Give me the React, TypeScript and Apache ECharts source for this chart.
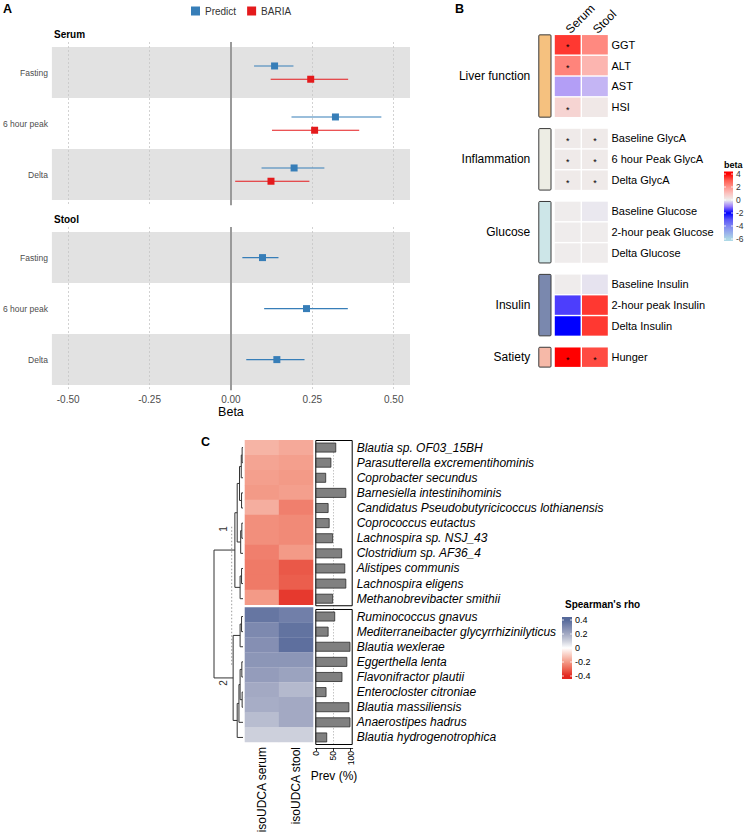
import React, { useEffect, useRef } from "react";
import * as echarts from "echarts";

const FONT = "'Liberation Sans', Arial, Helvetica, sans-serif";

// ---------------- Panel A data ----------------
const timepoints = ["Fasting", "6 hour peak", "Delta"];
const cohorts = ["Predict", "BARIA"];
const serumPredictBeta = [0.134, 0.321, 0.194];
const serumPredictLo = [0.071, 0.186, 0.094];
const serumPredictHi = [0.192, 0.462, 0.287];
const serumBariaBeta = [0.245, 0.257, 0.123];
const serumBariaLo = [0.122, 0.126, 0.013];
const serumBariaHi = [0.36, 0.394, 0.241];
const stoolPredictBeta = [0.097, 0.232, 0.141];
const stoolPredictLo = [0.035, 0.102, 0.047];
const stoolPredictHi = [0.146, 0.359, 0.226];
const betaTicks = [-0.5, -0.25, 0, 0.25, 0.5];

// ---------------- Panel B data ----------------
const sampleTypesB = ["Serum", "Stool"];
const groupsB = ["Liver function", "Inflammation", "Glucose", "Insulin", "Satiety"];
const groupSizesB = [4, 3, 3, 3, 1];
const outcomesB = [
  "GGT", "ALT", "AST", "HSI",
  "Baseline GlycA", "6 hour Peak GlycA", "Delta GlycA",
  "Baseline Glucose", "2-hour peak Glucose", "Delta Glucose",
  "Baseline Insulin", "2-hour peak Insulin", "Delta Insulin",
  "Hunger",
];
const serumBetaB = [3.4, 2.3, -0.7, 0.6, 0.1, 0.1, 0.1, 0.05, 0.05, 0.05, 0.05, -1.5, -2.0, 4.0];
const stoolBetaB = [2.2, 1.3, -0.5, 0.15, 0.1, 0.1, 0.1, -0.05, 0.05, 0.05, -0.1, 3.4, 3.4, 3.2];
const serumSigB = [1, 1, 0, 1, 1, 1, 1, 0, 0, 0, 0, 0, 0, 1];
const stoolSigB = [0, 0, 0, 0, 1, 1, 1, 0, 0, 0, 0, 0, 0, 1];
const betaLegendTicks = [4, 2, 0, -2, -4, -6];

// ---------------- Panel C data ----------------
const samplesC = ["isoUDCA serum", "isoUDCA stool"];
const speciesC = [
  "Blautia sp. OF03_15BH",
  "Parasutterella excrementihominis",
  "Coprobacter secundus",
  "Barnesiella intestinihominis",
  "Candidatus Pseudobutyricicoccus lothianensis",
  "Coprococcus eutactus",
  "Lachnospira sp. NSJ_43",
  "Clostridium sp. AF36_4",
  "Alistipes communis",
  "Lachnospira eligens",
  "Methanobrevibacter smithii",
  "Ruminococcus gnavus",
  "Mediterraneibacter glycyrrhizinilyticus",
  "Blautia wexlerae",
  "Eggerthella lenta",
  "Flavonifractor plautii",
  "Enterocloster citroniae",
  "Blautia massiliensis",
  "Anaerostipes hadrus",
  "Blautia hydrogenotrophica",
];
const clusterSizesC = [11, 9];
const clusterLabelsC = ["1", "2"];
const rhoSerumC = [-0.15, -0.18, -0.19, -0.2, -0.16, -0.22, -0.22, -0.25, -0.26, -0.26, -0.2,
  0.36, 0.3, 0.28, 0.26, 0.24, 0.2, 0.19, 0.15, 0.1];
const rhoStoolC = [-0.17, -0.19, -0.2, -0.19, -0.25, -0.23, -0.23, -0.2, -0.32, -0.31, -0.37,
  0.33, 0.37, 0.38, 0.26, 0.22, 0.16, 0.2, 0.2, 0.1];
const prevalenceC = [57, 43, 28, 86, 35, 38, 48, 74, 83, 86, 48, 54, 35, 98, 89, 75, 29, 95, 98, 31];
const prevTicks = [0, 50, 100];
const rhoLegendTicks = [0.4, 0.2, 0, -0.2, -0.4];
// dendrogram merges: [left, right, height]; leaves = row indices, node k = 20 + merge index
const dendroMerges = [
  [0, 1, 0.03],
  [20, 2, 0.06],
  [3, 4, 0.05],
  [21, 22, 0.12],
  [5, 6, 0.04],
  [24, 7, 0.08],
  [23, 25, 0.2],
  [8, 9, 0.05],
  [27, 10, 0.1],
  [26, 28, 0.28],
  [11, 12, 0.05],
  [30, 13, 0.1],
  [14, 15, 0.04],
  [16, 17, 0.03],
  [32, 33, 0.1],
  [34, 18, 0.14],
  [35, 19, 0.2],
  [31, 36, 0.34],
  [29, 37, 1.0],
];
const cutLineC = [0.39, 5.24, 14.5]; // height, from row pos, to row pos

// ---------------- styles ----------------
const BLUE = "#377EB8";
const RED = "#E41A1C";
const groupColorsB = ["#F5C17F", "#EDEDE4", "#CDE6E8", "#7A88AE", "#F6B9A8"];
const betaColors = ["#ADD8E6", "#98AEEB", "#7F86F1", "#5A55F8", "#0000FF", "#9A7CF9", "#EEEEEE", "#FBC3C0", "#FF948C", "#FF5E52", "#FF0000"];
const rhoColors = ["#E3261F", "#EC6452", "#F39A87", "#F9CDC2", "#FFFFFF", "#CDD0DC", "#A3A9C3", "#7D89AF", "#56699A"];

function buildOption() {
  // ---------- Panel A ----------
  const rowPosA = timepoints.map((_, i) => i + 1);
  const bandData = rowPosA
    .filter((_, i) => i % 2 === 0)
    .map((p) => [{ yAxis: p - 0.5 }, { yAxis: p + 0.5 }]);
  const vlines = {
    silent: true,
    symbol: ["none", "none"],
    label: { show: false },
    z: 3,
    data: betaTicks.map((v) => ({
      xAxis: v,
      lineStyle: v === 0
        ? { color: "#9a9a9a", width: 2, type: "solid" }
        : { color: "#c6c6c6", width: 0.8, type: [2, 2] },
    })),
  };
  const bands = { silent: true, itemStyle: { color: "#E2E2E2" }, data: bandData };

  const ci = (name: string, lo: number[], hi: number[], off: number, color: string, gi: number, withMarks: boolean) => ({
    type: "custom",
    name,
    xAxisIndex: gi,
    yAxisIndex: gi,
    z: 6,
    data: lo.map((l, i) => [l, hi[i], rowPosA[i] + off]),
    renderItem: (params: any, api: any) => {
      const a = api.coord([api.value(0), api.value(2)]);
      const b = api.coord([api.value(1), api.value(2)]);
      return { type: "line", shape: { x1: a[0], y1: a[1], x2: b[0], y2: b[1] }, style: { stroke: color, lineWidth: 1.1 } };
    },
    markArea: withMarks ? bands : undefined,
    markLine: withMarks ? vlines : undefined,
  });
  const pts = (name: string, beta: number[], off: number, color: string, gi: number) => ({
    type: "scatter",
    name,
    xAxisIndex: gi,
    yAxisIndex: gi,
    z: 7,
    symbol: "rect",
    symbolSize: 7,
    itemStyle: { color, opacity: 1 },
    data: beta.map((b, i) => [b, rowPosA[i] + off]),
  });
  const xA = (gi: number, labels: boolean) => ({
    type: "value",
    gridIndex: gi,
    min: -0.55,
    max: 0.55,
    axisLine: { show: false },
    axisTick: { show: false },
    splitLine: { show: false },
    axisLabel: labels
      ? { show: true, customValues: betaTicks, formatter: (v: number) => v.toFixed(2), fontSize: 10, color: "#4d4d4d", margin: 4, fontFamily: FONT }
      : { show: false },
    name: labels ? "Beta" : "",
    nameLocation: "middle",
    nameGap: 14,
    nameTextStyle: { fontSize: 12.5, color: "#000", fontFamily: FONT },
  });
  const yA = (gi: number) => ({
    type: "value",
    gridIndex: gi,
    min: 0.4,
    max: 3.6,
    inverse: true,
    axisLine: { show: false },
    axisTick: { show: false },
    splitLine: { show: false },
    axisLabel: {
      customValues: rowPosA,
      formatter: (v: number) => timepoints[Math.round(v) - 1],
      fontSize: 8.5,
      color: "#4d4d4d",
      margin: 4,
      fontFamily: FONT,
    },
  });

  // ---------- Panel B ----------
  const rowPosB: number[] = [];
  const groupOfRowB: number[] = [];
  let r = 0;
  groupSizesB.forEach((n, g) => {
    for (let k = 0; k < n; k++) {
      rowPosB.push(r + g * 0.5);
      groupOfRowB.push(g);
      r++;
    }
  });
  const groupRangeB = groupsB.map((_, g) => {
    const ps = rowPosB.filter((_, i) => groupOfRowB[i] === g);
    return [ps[0], ps[ps.length - 1]];
  });
  const groupCenterB = groupRangeB.map(([a, b]) => (a + b) / 2);
  const heatB: any[] = [];
  outcomesB.forEach((_, i) => {
    heatB.push([0, rowPosB[i], serumBetaB[i], serumSigB[i]]);
    heatB.push([1, rowPosB[i], stoolBetaB[i], stoolSigB[i]]);
  });
  const maxPosB = rowPosB[rowPosB.length - 1] + 0.5;

  // ---------- Panel C ----------
  const rowPosC: number[] = [];
  const clusterOfRowC: number[] = [];
  let rc = 0;
  clusterSizesC.forEach((n, c) => {
    for (let k = 0; k < n; k++) {
      rowPosC.push(rc + c * 0.18);
      clusterOfRowC.push(c);
      rc++;
    }
  });
  const maxPosC = rowPosC[rowPosC.length - 1] + 0.5;
  const heatC: any[] = [];
  speciesC.forEach((_, i) => {
    heatC.push([0, rowPosC[i], rhoSerumC[i]]);
    heatC.push([1, rowPosC[i], rhoStoolC[i]]);
  });
  const clusterBoxes = clusterSizesC.map((_, c) => {
    const ps = rowPosC.filter((_, i) => clusterOfRowC[i] === c);
    return [ps[0] - 0.5, ps[ps.length - 1] + 0.5];
  });
  // dendrogram node positions
  const nodePos: number[] = rowPosC.slice();
  const nodeH: number[] = rowPosC.map(() => 0);
  const dendroData = dendroMerges.map(([a, b, h]) => {
    const item = [nodePos[a], nodePos[b], nodeH[a], nodeH[b], h];
    nodePos.push((nodePos[a] + nodePos[b]) / 2);
    nodeH.push(h);
    return item;
  });

  const hiddenAxis = { axisLine: { show: false }, axisTick: { show: false }, splitLine: { show: false }, axisLabel: { show: false } };

  const grids = [
    { left: 50, top: 42, width: 360, height: 163.2 },
    { left: 50, top: 227, width: 360, height: 163.2 },
    { left: 538.3, top: 34, width: 70.2, height: 16 * 20.85 },
    { left: 214, top: 440, width: 29, height: 305 },
    { left: 244.7, top: 440, width: 68.3, height: 305 },
    { left: 315.3, top: 440, width: 37.4, height: 305 },
  ];

  const xAxes: any[] = [
    xA(0, false),
    xA(1, true),
    {
      type: "value", gridIndex: 2, position: "top", min: -1.08, max: 1.5,
      axisLine: { show: false }, axisTick: { show: false }, splitLine: { show: false },
      axisLabel: { customValues: [0, 1], formatter: (v: number) => sampleTypesB[Math.round(v)], rotate: 45, fontSize: 12, margin: 3, color: "#000", fontFamily: FONT },
    },
    { type: "value", gridIndex: 3, min: 0, max: 1, inverse: true, ...hiddenAxis },
    {
      type: "value", gridIndex: 4, min: -0.5, max: 1.5,
      axisLine: { show: false }, axisTick: { show: false }, splitLine: { show: false },
      axisLabel: { customValues: [0, 1], formatter: (v: number) => samplesC[Math.round(v)], rotate: 90, fontSize: 12, margin: 5, color: "#000", fontFamily: FONT },
    },
    {
      type: "value", gridIndex: 5, min: -2, max: 105.8, offset: 3,
      axisLine: { show: true, onZero: false, lineStyle: { color: "#000", width: 0.8 } },
      axisTick: { show: true, customValues: prevTicks, length: 3, lineStyle: { color: "#000", width: 0.8 } },
      splitLine: { show: false },
      axisLabel: { customValues: prevTicks, rotate: 90, fontSize: 8.5, margin: 3, color: "#000", fontFamily: FONT },
      name: "Prev (%)", nameLocation: "middle", nameGap: 22,
      nameTextStyle: { fontSize: 12, color: "#000", fontFamily: FONT },
    },
  ];

  const posLabel = (arr: number[], names: string[]) => (v: number) => {
    const i = arr.findIndex((p) => Math.abs(p - v) < 1e-6);
    return i >= 0 ? names[i] : "";
  };

  const yAxes: any[] = [
    yA(0),
    yA(1),
    {
      type: "value", gridIndex: 2, position: "right", min: -0.5, max: maxPosB, inverse: true,
      axisLine: { show: false }, axisTick: { show: false }, splitLine: { show: false },
      axisLabel: { customValues: rowPosB, formatter: posLabel(rowPosB, outcomesB), fontSize: 11, margin: 3, color: "#000", fontFamily: FONT },
    },
    {
      type: "value", gridIndex: 2, position: "left", min: -0.5, max: maxPosB, inverse: true,
      axisLine: { show: false }, axisTick: { show: false }, splitLine: { show: false },
      axisLabel: { customValues: groupCenterB, formatter: posLabel(groupCenterB, groupsB), fontSize: 12, margin: 8, color: "#000", fontFamily: FONT },
    },
    { type: "value", gridIndex: 3, min: -0.5, max: maxPosC, inverse: true, ...hiddenAxis },
    { type: "value", gridIndex: 4, min: -0.5, max: maxPosC, inverse: true, ...hiddenAxis },
    {
      type: "value", gridIndex: 5, position: "right", min: -0.5, max: maxPosC, inverse: true,
      axisLine: { show: false }, axisTick: { show: false }, splitLine: { show: false },
      axisLabel: { customValues: rowPosC, formatter: posLabel(rowPosC, speciesC), fontSize: 12, fontStyle: "italic", margin: 4, color: "#000", fontFamily: FONT },
    },
  ];

  const series: any[] = [
    ci("Predict CI", serumPredictLo, serumPredictHi, -0.13, BLUE, 0, true),
    ci("BARIA CI", serumBariaLo, serumBariaHi, 0.13, RED, 0, false),
    pts(cohorts[0], serumPredictBeta, -0.13, BLUE, 0),
    pts(cohorts[1], serumBariaBeta, 0.13, RED, 0),
    ci("Predict CI stool", stoolPredictLo, stoolPredictHi, 0, BLUE, 1, true),
    pts(cohorts[0], stoolPredictBeta, 0, BLUE, 1),
    // 6: B annotation
    {
      type: "custom", xAxisIndex: 2, yAxisIndex: 2, z: 3,
      data: groupRangeB.map(([a, b], g) => [a, b, g]),
      renderItem: (params: any, api: any) => {
        const cs = params.coordSys;
        const t = api.coord([0, api.value(0) - 0.5])[1];
        const bt = api.coord([0, api.value(1) + 0.5])[1];
        return {
          type: "rect",
          shape: { x: cs.x + 0.5, y: t + 0.5, width: 12.2, height: bt - t - 1, r: 1 },
          style: { fill: groupColorsB[api.value(2)], stroke: "#3a3a3a", lineWidth: 1 },
        };
      },
    },
    // 7: B heat
    {
      type: "custom", xAxisIndex: 2, yAxisIndex: 2, z: 3,
      data: heatB,
      renderItem: (params: any, api: any) => {
        const c = api.value(0), p = api.value(1);
        const tl = api.coord([c - 0.5, p - 0.5]);
        const br = api.coord([c + 0.5, p + 0.5]);
        const children: any[] = [{
          type: "rect",
          shape: { x: tl[0] + 0.7, y: tl[1] + 0.7, width: br[0] - tl[0] - 1.4, height: br[1] - tl[1] - 1.4 },
          style: { fill: api.visual("color") },
        }];
        if (api.value(3)) {
          children.push({
            type: "text",
            x: (tl[0] + br[0]) / 2,
            y: (tl[1] + br[1]) / 2 + 2.5,
            style: { text: "*", fontSize: 9, fill: "#000", align: "center", verticalAlign: "middle", fontFamily: FONT },
          });
        }
        return { type: "group", children };
      },
    },
    // 8: C dendrogram
    {
      type: "custom", xAxisIndex: 3, yAxisIndex: 4, z: 3,
      data: dendroData,
      renderItem: (params: any, api: any) => {
        const yL = api.value(0), yR = api.value(1), hL = api.value(2), hR = api.value(3), h = api.value(4);
        const pts2 = [api.coord([hL, yL]), api.coord([h, yL]), api.coord([h, yR]), api.coord([hR, yR])];
        return { type: "polyline", shape: { points: pts2 }, style: { stroke: "#333", lineWidth: 1, fill: "none" } };
      },
    },
    // 9: C heat
    {
      type: "custom", xAxisIndex: 4, yAxisIndex: 5, z: 3,
      data: heatC,
      renderItem: (params: any, api: any) => {
        const c = api.value(0), p = api.value(1);
        const tl = api.coord([c - 0.5, p - 0.5]);
        const br = api.coord([c + 0.5, p + 0.5]);
        return {
          type: "rect",
          shape: { x: tl[0], y: tl[1], width: br[0] - tl[0] + 0.3, height: br[1] - tl[1] + 0.3 },
          style: { fill: api.visual("color") },
        };
      },
    },
    // 10: C bar boxes
    {
      type: "custom", xAxisIndex: 5, yAxisIndex: 6, z: 4,
      data: clusterBoxes,
      renderItem: (params: any, api: any) => {
        const cs = params.coordSys;
        const t = api.coord([0, api.value(0)])[1];
        const b = api.coord([0, api.value(1)])[1];
        return { type: "rect", shape: { x: cs.x + 0.5, y: t + 0.5, width: cs.width - 1, height: b - t - 1 }, style: { fill: "none", stroke: "#000", lineWidth: 1 } };
      },
      markLine: {
        silent: true, symbol: ["none", "none"], label: { show: false }, z: 2,
        lineStyle: { type: [1.5, 1.5], color: "#b5b5b5", width: 0.8 },
        data: [{ xAxis: 50 }],
      },
    },
    // 11: C bars
    {
      type: "custom", xAxisIndex: 5, yAxisIndex: 6, z: 5,
      data: prevalenceC.map((v, i) => [v, rowPosC[i]]),
      renderItem: (params: any, api: any) => {
        const v = api.value(0), p = api.value(1);
        const a = api.coord([0, p - 0.3]);
        const b = api.coord([v, p + 0.3]);
        return { type: "rect", shape: { x: a[0], y: a[1], width: b[0] - a[0], height: b[1] - a[1] }, style: { fill: "#808080", stroke: "#2b2b2b", lineWidth: 0.8 } };
      },
    },
    // 12: C dendrogram cut line (dotted)
    {
      type: "custom", xAxisIndex: 3, yAxisIndex: 4, z: 2,
      data: [cutLineC],
      renderItem: (params: any, api: any) => {
        const a = api.coord([api.value(0), api.value(1)]);
        const b = api.coord([api.value(0), api.value(2)]);
        return { type: "line", shape: { x1: a[0], y1: a[1], x2: b[0], y2: b[1] }, style: { stroke: "#9a9a9a", lineWidth: 1, lineDash: [1.5, 2] } };
      },
    },
  ];

  // legends (graphic)
  const betaBarTop = 171.5, betaBarBot = 241;
  const betaY = (v: number) => 200 - v * 6.5;
  const betaStops = betaColors.map((c, i) => {
    const v = -6 + i;
    return { offset: Math.min(1, Math.max(0, (betaY(v) - betaBarTop) / (betaBarBot - betaBarTop))), color: c };
  }).reverse();
  const rhoBarTop = 617, rhoBarBot = 679, rhoBarX = 562;
  const rhoY = (v: number) => 620 + (0.4 - v) * 70;
  const rhoStops = rhoColors.map((c, i) => {
    const v = -0.4 + i * 0.1;
    return { offset: Math.min(1, Math.max(0, (rhoY(v) - rhoBarTop) / (rhoBarBot - rhoBarTop))), color: c };
  }).reverse();

  const txt = (text: string, x: number, y: number, style: any = {}, extra: any = {}) => ({
    type: "text", x, y, ...extra,
    style: { text, fill: "#000", fontFamily: FONT, fontSize: 12, align: "left", verticalAlign: "middle", ...style },
  });

  const graphic: any[] = [
    txt("A", 3, 9, { fontSize: 12.5, fontWeight: "bold" }),
    txt("B", 455, 9, { fontSize: 12.5, fontWeight: "bold" }),
    txt("C", 201, 442, { fontSize: 12.5, fontWeight: "bold" }),
    txt("Serum", 54, 34, { fontSize: 10, fontWeight: "bold" }),
    txt("Stool", 54, 219, { fontSize: 10, fontWeight: "bold" }),
    txt(clusterLabelsC[0], 223, 529, { fontSize: 10, align: "center", fill: "#333" }, { rotation: Math.PI / 2 }),
    txt(clusterLabelsC[1], 223, 683, { fontSize: 10, align: "center", fill: "#333" }, { rotation: Math.PI / 2 }),
    txt("beta", 724, 165, { fontSize: 9, fontWeight: "bold" }),
    {
      type: "rect",
      shape: { x: 724, y: betaBarTop, width: 9, height: betaBarBot - betaBarTop },
      style: { fill: new echarts.graphic.LinearGradient(0, 0, 0, 1, betaStops) },
    },
    ...betaLegendTicks.flatMap((v) => [
      { type: "line", shape: { x1: 724, y1: betaY(v), x2: 726, y2: betaY(v) }, style: { stroke: "#fff", lineWidth: 0.8 } },
      { type: "line", shape: { x1: 731, y1: betaY(v), x2: 733, y2: betaY(v) }, style: { stroke: "#fff", lineWidth: 0.8 } },
      txt(String(v), 736, betaY(v), { fontSize: 8.5, fill: "#333" }),
    ]),
    txt("Spearman's rho", 565, 604, { fontSize: 10, fontWeight: "bold" }),
    {
      type: "rect",
      shape: { x: rhoBarX, y: rhoBarTop, width: 10, height: rhoBarBot - rhoBarTop },
      style: { fill: new echarts.graphic.LinearGradient(0, 0, 0, 1, rhoStops) },
    },
    ...rhoLegendTicks.flatMap((v) => [
      { type: "line", shape: { x1: rhoBarX, y1: rhoY(v), x2: rhoBarX + 2, y2: rhoY(v) }, style: { stroke: "#fff", lineWidth: 0.8 } },
      { type: "line", shape: { x1: rhoBarX + 8, y1: rhoY(v), x2: rhoBarX + 10, y2: rhoY(v) }, style: { stroke: "#fff", lineWidth: 0.8 } },
      txt(String(v), rhoBarX + 13, rhoY(v), { fontSize: 9, fill: "#000" }),
    ]),
  ];

  return {
    animation: false,
    backgroundColor: "#fff",
    textStyle: { fontFamily: FONT },
    legend: {
      data: cohorts,
      top: 1,
      left: 186,
      icon: "rect",
      itemWidth: 9,
      itemHeight: 9,
      itemGap: 11,
      selectedMode: false,
      textStyle: { fontSize: 10, color: "#333", fontFamily: FONT },
    },
    grid: grids,
    xAxis: xAxes,
    yAxis: yAxes,
    visualMap: [
      { type: "continuous", show: false, seriesIndex: 7, dimension: 2, min: -6, max: 4, inRange: { color: betaColors } },
      { type: "continuous", show: false, seriesIndex: 9, dimension: 2, min: -0.4, max: 0.4, inRange: { color: rhoColors } },
    ],
    series,
    graphic,
  };
}

export default function App() {
  const ref = useRef<HTMLDivElement>(null);
  useEffect(() => {
    const chart = echarts.init(ref.current as HTMLDivElement, null, { renderer: "svg" });
    chart.setOption(buildOption() as any);
    return () => chart.dispose();
  }, []);
  return (
    <div
      ref={ref}
      style={{ position: "fixed", left: 0, top: 0, width: 747, height: 836, background: "#fff" }}
    />
  );
}
